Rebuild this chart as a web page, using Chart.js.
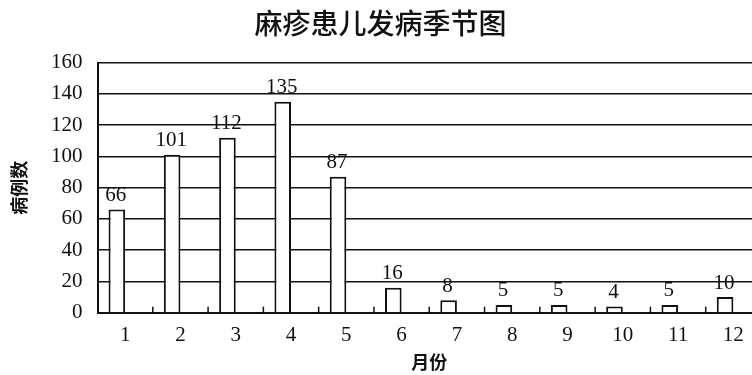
<!DOCTYPE html>
<html>
<head>
<meta charset="utf-8">
<script src="https://cdn.jsdelivr.net/npm/chart.js@4"></script>
<style>
  html, body { margin: 0; padding: 0; background: #fff; overflow: hidden; }
  #wrap { width: 752px; height: 375px; overflow: hidden; }
</style>
</head>
<body>
<div id="wrap">
  <canvas id="chart" width="851" height="375"></canvas>
</div>
<script>
const months = ['1', '2', '3', '4', '5', '6', '7', '8', '9', '10', '11', '12'];
const cases = [66, 101, 112, 135, 87, 16, 8, 5, 5, 4, 5, 10];
// the original had a second, empty series next to each bar
const emptySeries = [null, null, null, null, null, null, null, null, null, null, null, null];

const serif = "'Liberation Serif', 'DejaVu Serif', serif";
const hei = "'Noto Sans CJK SC', sans-serif";

// value labels above bars + short inward ticks between categories
const extras = {
  id: 'extras',
  afterDatasetsDraw(chart) {
    const ctx = chart.ctx;
    const x = chart.scales.x;
    const area = chart.chartArea;
    ctx.save();
    ctx.strokeStyle = '#111';
    ctx.lineWidth = 1.5;
    for (let i = 1; i < months.length; i++) {
      const px = (x.getPixelForValue(i - 1) + x.getPixelForValue(i)) / 2;
      ctx.beginPath();
      ctx.moveTo(px, area.bottom);
      ctx.lineTo(px, area.bottom - 6);
      ctx.stroke();
    }
    ctx.fillStyle = '#111';
    ctx.font = '21px ' + serif;
    ctx.textAlign = 'center';
    ctx.textBaseline = 'middle';
    chart.getDatasetMeta(0).data.forEach((bar, i) => {
      ctx.fillText(String(cases[i]), bar.x - 1, bar.y - 14);
    });
    ctx.restore();
  }
};

new Chart(document.getElementById('chart'), {
  type: 'bar',
  data: {
    labels: months,
    datasets: [
      {
        data: cases,
        backgroundColor: '#fff',
        borderColor: '#111',
        borderWidth: 2,
        borderSkipped: 'bottom',
        categoryPercentage: 0.6,
        barPercentage: 1,
      },
      {
        data: emptySeries,
        categoryPercentage: 0.6,
        barPercentage: 1,
      },
    ],
  },
  options: {
    responsive: false,
    animation: false,
    devicePixelRatio: 1,
    layout: { padding: { left: 0, right: 90, top: 0, bottom: 0 } },
    plugins: {
      legend: { display: false },
      tooltip: { enabled: false },
      title: {
        display: true,
        text: '麻疹患儿发病季节图',
        color: '#111',
        font: { family: hei, size: 28, weight: 500 },
        padding: { top: 7, bottom: 22 },
      },
    },
    scales: {
      x: {
        grid: { display: true, drawOnChartArea: false, drawTicks: false },
        border: { display: true, color: '#111', width: 2 },
        ticks: { color: '#111', font: { family: serif, size: 21 }, padding: 10, maxRotation: 0 },
        title: {
          display: true,
          text: '月份',
          color: '#111',
          font: { family: hei, size: 18, weight: 'bold' },
          padding: { top: 0, bottom: 2 },
        },
        afterFit(scale) { scale.height = 62.3; },
      },
      y: {
        min: 0,
        max: 160,
        grid: { color: '#111', lineWidth: 1.5, drawTicks: false },
        border: { display: true, color: '#111', width: 2 },
        ticks: { stepSize: 20, color: '#111', font: { family: serif, size: 21 }, padding: 15 },
        title: {
          display: true,
          text: '病例数',
          color: '#111',
          font: { family: hei, size: 18, weight: 'bold' },
          padding: { top: 8, bottom: 0 },
        },
        afterFit(scale) { scale.width = 97.5; },
      },
    },
  },
  plugins: [extras],
});
</script>
</body>
</html>
